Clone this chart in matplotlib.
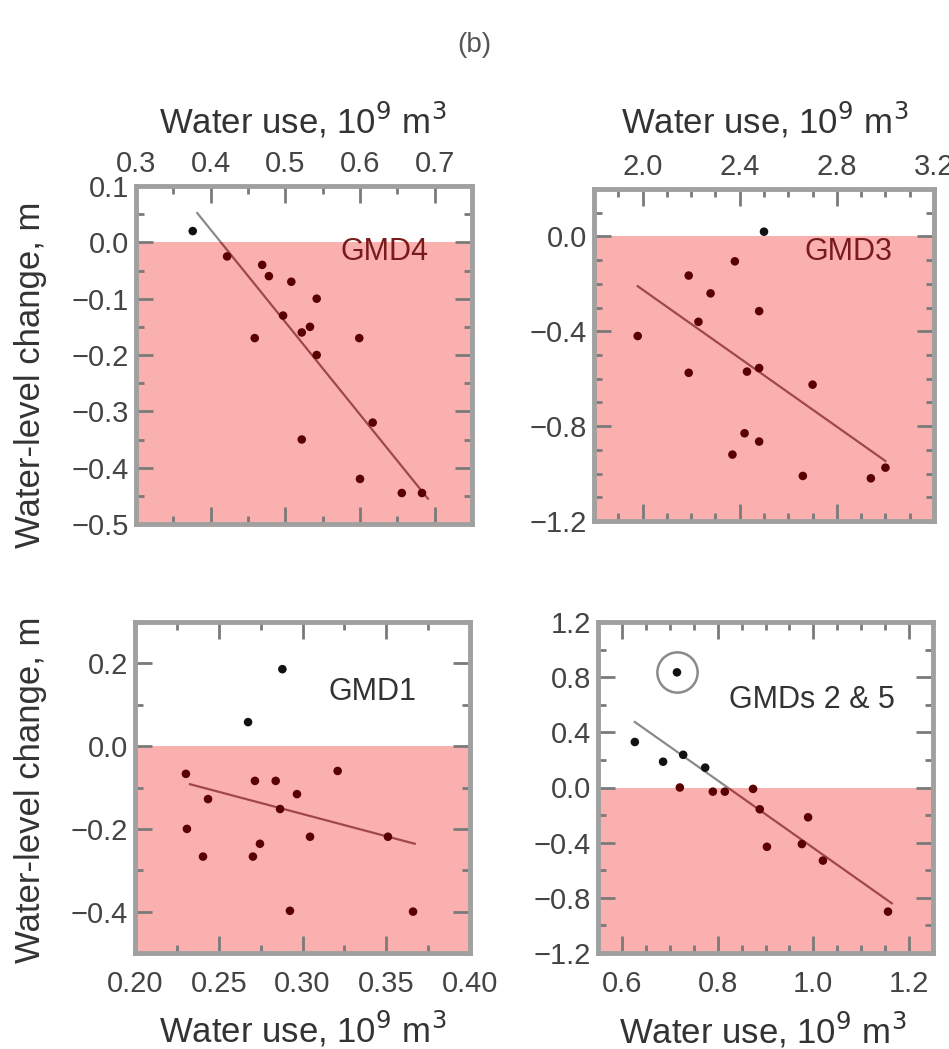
import matplotlib.pyplot as plt
import numpy as np
from matplotlib.patches import Rectangle
from matplotlib.ticker import MultipleLocator

plt.rcParams['font.family'] = ['Liberation Sans', 'DejaVu Sans']

# GMD4 (top left)
gmd4_use = [0.376, 0.422, 0.469, 0.478, 0.508, 0.542, 0.497, 0.522, 0.533, 0.542,
            0.459, 0.599, 0.522, 0.617, 0.600, 0.656, 0.683]
gmd4_change = [0.02, -0.025, -0.04, -0.06, -0.07, -0.10, -0.13, -0.16, -0.15, -0.20,
               -0.17, -0.17, -0.35, -0.32, -0.42, -0.445, -0.445]
gmd4_fit_use = [0.382, 0.691]
gmd4_fit_change = [0.052, -0.455]

# GMD3 (top right)
gmd3_use = [2.50, 2.38, 2.19, 2.28, 2.23, 2.48, 1.98, 2.19, 2.43, 2.48,
            2.70, 2.42, 2.48, 2.37, 2.66, 2.94, 3.00]
gmd3_change = [0.02, -0.105, -0.165, -0.24, -0.36, -0.315, -0.42, -0.575, -0.57, -0.555,
               -0.625, -0.83, -0.865, -0.92, -1.01, -1.02, -0.975]
gmd3_fit_use = [1.98, 3.00]
gmd3_fit_change = [-0.21, -0.947]

# GMD1 (bottom left)
gmd1_use = [0.288, 0.2675, 0.2304, 0.2716, 0.284, 0.321, 0.2967, 0.2436, 0.2866, 0.231,
            0.3045, 0.351, 0.2746, 0.2406, 0.2704, 0.2925, 0.366]
gmd1_change = [0.186, 0.058, -0.067, -0.084, -0.084, -0.06, -0.116, -0.128, -0.152, -0.20,
               -0.219, -0.219, -0.236, -0.267, -0.267, -0.398, -0.40]
gmd1_fit_use = [0.2328, 0.367]
gmd1_fit_change = [-0.092, -0.236]

# GMDs 2 & 5 (bottom right)
gmd25_use = [0.715, 0.627, 0.686, 0.728, 0.774, 0.721, 0.79, 0.815, 0.874, 0.888,
             0.989, 0.976, 0.903, 1.02, 1.156]
gmd25_change = [0.835, 0.33, 0.187, 0.237, 0.144, 0.0, -0.03, -0.03, -0.01, -0.158,
                -0.216, -0.41, -0.43, -0.53, -0.90]
gmd25_fit_use = [0.627, 1.164]
gmd25_fit_change = [0.475, -0.84]
gmd25_outlier = 0  # index of circled point

PINK = '#fbb0b0'
TXT = '#444444'
W, H = 949, 1049

fig = plt.figure(figsize=(W / 100, H / 100), dpi=100)


def box(x0, x1, y0, y1):
    return [x0 / W, 1 - y1 / H, (x1 - x0) / W, (y1 - y0) / H]


def panel(rect, use, change, fit_use, fit_change, xlim, ylim, xt, yt, name, name_xy, top):
    ax = fig.add_axes(rect)
    ax.set_xlim(xlim)
    ax.set_ylim(ylim)
    ax.axhspan(ylim[0], 0, color=PINK, lw=0, zorder=0)

    # fit line: grey over white, dark red over the pink band
    above = Rectangle((xlim[0], 0), xlim[1] - xlim[0], ylim[1], transform=ax.transData)
    below = Rectangle((xlim[0], ylim[0]), xlim[1] - xlim[0], -ylim[0], transform=ax.transData)
    l1, = ax.plot(fit_use, fit_change, color='#8a8a8a', lw=1.6, zorder=2)
    l1.set_clip_path(above)
    l2, = ax.plot(fit_use, fit_change, color='#a04848', lw=1.6, zorder=2)
    l2.set_clip_path(below)

    change = np.array(change)
    cols = np.where(change <= 0, '#5a0000', '#111111')
    ax.scatter(use, change, s=38, c=cols, marker='o', linewidths=0, zorder=3)

    ax.text(name_xy[0], name_xy[1], name, transform=ax.transAxes, ha='center', va='center',
            fontsize=22, color='#7a1a1a' if name_xy[2] else '#333333')

    ax.xaxis.set_major_locator(MultipleLocator(xt[0]))
    ax.xaxis.set_minor_locator(MultipleLocator(xt[1]))
    ax.yaxis.set_major_locator(MultipleLocator(yt[0]))
    ax.yaxis.set_minor_locator(MultipleLocator(yt[1]))
    ax.tick_params(which='both', direction='in', top=True, bottom=True, left=True, right=True,
                   color='#7a7a7a', width=2, labelsize=21, labelcolor=TXT)
    ax.tick_params(which='major', length=12)
    ax.tick_params(which='minor', length=6)
    if top:
        ax.tick_params(axis='x', labeltop=True, labelbottom=False, pad=6)
    else:
        ax.tick_params(axis='x', pad=12)
    ax.tick_params(axis='y', pad=5)
    for s in ax.spines.values():
        s.set_color('#a0a0a0')
        s.set_linewidth(3.5)
    return ax


panel(box(136, 472, 186, 524), gmd4_use, gmd4_change, gmd4_fit_use, gmd4_fit_change,
      (0.3, 0.75), (-0.5, 0.1), (0.1, 0.05), (0.1, 0.05), 'GMD4', (0.74, 0.805, True), True)
panel(box(594, 934, 189, 521), gmd3_use, gmd3_change, gmd3_fit_use, gmd3_fit_change,
      (1.8, 3.2), (-1.2, 0.2), (0.4, 0.1), (0.4, 0.1), 'GMD3', (0.75, 0.81, True), True)
panel(box(135, 470, 622, 953), gmd1_use, gmd1_change, gmd1_fit_use, gmd1_fit_change,
      (0.2, 0.4), (-0.5, 0.3), (0.05, 0.025), (0.2, 0.1), 'GMD1', (0.71, 0.79, False), False)
ax4 = panel(box(598, 933, 622, 953), gmd25_use, gmd25_change, gmd25_fit_use, gmd25_fit_change,
            (0.55, 1.25), (-1.2, 1.2), (0.2, 0.05), (0.4, 0.2), 'GMDs 2 & 5', (0.64, 0.765, False), False)
ax4.plot(gmd25_use[gmd25_outlier], gmd25_change[gmd25_outlier], 'o', ms=29, mfc='none',
         mec='#8a8a8a', mew=1.8, zorder=3)

xlab = 'Water use, 10$^9$ m$^3$'
ylab = 'Water-level change, m'
for x, y in [(303, 120), (765, 120), (303, 1029), (763, 1030)]:
    fig.text(x / W, 1 - y / H, xlab, ha='center', va='center', fontsize=25, color='#333333')
for y in [375, 790]:
    fig.text(31 / W, 1 - y / H, ylab, ha='center', va='center', rotation=90,
             fontsize=25, color='#333333')
fig.text(474 / W, 1 - 45 / H, '(b)', ha='center', va='center', fontsize=20, color='#555555')

fig.savefig('out.png', dpi=100)
